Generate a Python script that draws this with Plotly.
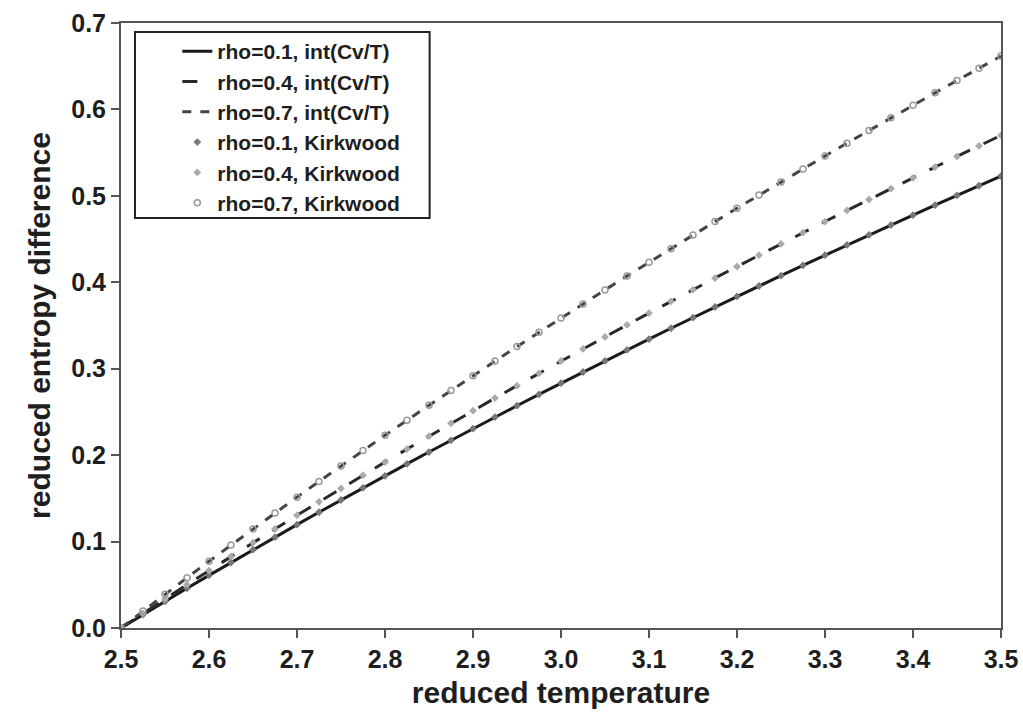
import plotly.graph_objects as go

# reduced temperature grid
T = [2.5, 2.525, 2.55, 2.575, 2.6, 2.625, 2.65, 2.675, 2.7, 2.725, 2.75,
     2.775, 2.8, 2.825, 2.85, 2.875, 2.9, 2.925, 2.95, 2.975, 3.0,
     3.025, 3.05, 3.075, 3.1, 3.125, 3.15, 3.175, 3.2, 3.225, 3.25,
     3.275, 3.3, 3.325, 3.35, 3.375, 3.4, 3.425, 3.45, 3.475, 3.5]

# reduced entropy difference
s_rho01 = [0.0, 0.0155, 0.0308, 0.0459, 0.0609, 0.0758, 0.0906, 0.1051, 0.1196, 0.1339, 0.1481,
           0.1622, 0.1761, 0.1899, 0.2036, 0.2172, 0.2306, 0.2440, 0.2572, 0.2703, 0.2833,
           0.2962, 0.3090, 0.3217, 0.3343, 0.3468, 0.3591, 0.3714, 0.3836, 0.3957, 0.4077,
           0.4196, 0.4314, 0.4432, 0.4548, 0.4664, 0.4778, 0.4892, 0.5005, 0.5117, 0.5229]
s_rho04 = [0.0, 0.0169, 0.0335, 0.0501, 0.0664, 0.0827, 0.0987, 0.1146, 0.1304, 0.1460, 0.1615,
           0.1768, 0.1920, 0.2070, 0.2220, 0.2368, 0.2514, 0.2660, 0.2804, 0.2947, 0.3089,
           0.3229, 0.3368, 0.3507, 0.3644, 0.3780, 0.3915, 0.4049, 0.4182, 0.4314, 0.4444,
           0.4574, 0.4703, 0.4831, 0.4958, 0.5084, 0.5209, 0.5333, 0.5456, 0.5578, 0.5700]
s_rho07 = [0.0, 0.0196, 0.0390, 0.0581, 0.0772, 0.0960, 0.1146, 0.1331, 0.1514, 0.1695, 0.1875,
           0.2053, 0.2229, 0.2404, 0.2577, 0.2749, 0.2919, 0.3088, 0.3256, 0.3422, 0.3586,
           0.3750, 0.3911, 0.4072, 0.4231, 0.4389, 0.4546, 0.4702, 0.4856, 0.5009, 0.5161,
           0.5312, 0.5461, 0.5610, 0.5757, 0.5903, 0.6048, 0.6192, 0.6335, 0.6477, 0.6618]

# Kirkwood values coincide with the integrated Cv/T values on the chart
k_rho01 = s_rho01
k_rho04 = s_rho04
k_rho07 = s_rho07

x_ticks = [2.5, 2.6, 2.7, 2.8, 2.9, 3.0, 3.1, 3.2, 3.3, 3.4, 3.5]
y_ticks = [0.0, 0.1, 0.2, 0.3, 0.4, 0.5, 0.6, 0.7]

FONT = "Liberation Sans"

fig = go.Figure()
fig.add_trace(go.Scatter(x=T, y=s_rho01, mode="lines", name="rho=0.1, int(Cv/T)",
                         line=dict(color="#1a1a1a", width=3, dash="solid")))
fig.add_trace(go.Scatter(x=T, y=s_rho04, mode="lines", name="rho=0.4, int(Cv/T)",
                         line=dict(color="#2a2a2a", width=3, dash="longdash")))
fig.add_trace(go.Scatter(x=T, y=s_rho07, mode="lines", name="rho=0.7, int(Cv/T)",
                         line=dict(color="#444444", width=3, dash="dash")))
fig.add_trace(go.Scatter(x=T, y=k_rho01, mode="markers", name="rho=0.1, Kirkwood",
                         marker=dict(symbol="diamond", size=6, color="#777777")))
fig.add_trace(go.Scatter(x=T, y=k_rho04, mode="markers", name="rho=0.4, Kirkwood",
                         marker=dict(symbol="diamond", size=6, color="#aaaaaa")))
fig.add_trace(go.Scatter(x=T, y=k_rho07, mode="markers", name="rho=0.7, Kirkwood",
                         marker=dict(symbol="circle-open", size=6, color="#999999",
                                     line=dict(width=1.5))))

axis_common = dict(showline=True, mirror=True, linecolor="#555555", linewidth=2,
                   ticks="outside", ticklen=8, tickwidth=2, tickcolor="#555555",
                   showgrid=False, zeroline=False, automargin=False,
                   tickfont=dict(family=FONT, size=25, color="#1e1e1e", weight="bold"))

fig.update_xaxes(range=[2.5, 3.5], tickvals=x_ticks,
                 ticktext=[f"{v:.1f}" for v in x_ticks],
                 title=dict(text="reduced temperature", standoff=10,
                            font=dict(family=FONT, size=30, color="#1e1e1e", weight="bold")),
                 **axis_common)
fig.update_yaxes(range=[0.0, 0.7], tickvals=y_ticks,
                 ticktext=[f"{v:.1f}" for v in y_ticks],
                 title=dict(text="reduced entropy difference", standoff=12,
                            font=dict(family=FONT, size=30, color="#1e1e1e", weight="bold")),
                 **axis_common)

# legend frame (drawn separately so the legend entries can sit inset like the original)
fig.add_shape(type="rect", xref="paper", yref="paper",
              x0=0.0159, x1=0.3507, y0=0.6777, y1=0.9851,
              line=dict(color="#222222", width=2), fillcolor="rgba(0,0,0,0)", layer="above")

fig.update_layout(
    width=1023, height=714,
    margin=dict(l=121, r=22, t=23, b=86),
    paper_bgcolor="white", plot_bgcolor="white",
    showlegend=True,
    legend=dict(x=0.064, y=0.9867, xanchor="left", yanchor="top",
                bgcolor="rgba(0,0,0,0)", borderwidth=0,
                font=dict(family=FONT, size=21, color="#1e1e1e", weight="bold"),
                itemwidth=30, tracegroupgap=0),
)

fig.write_html("out.html")
